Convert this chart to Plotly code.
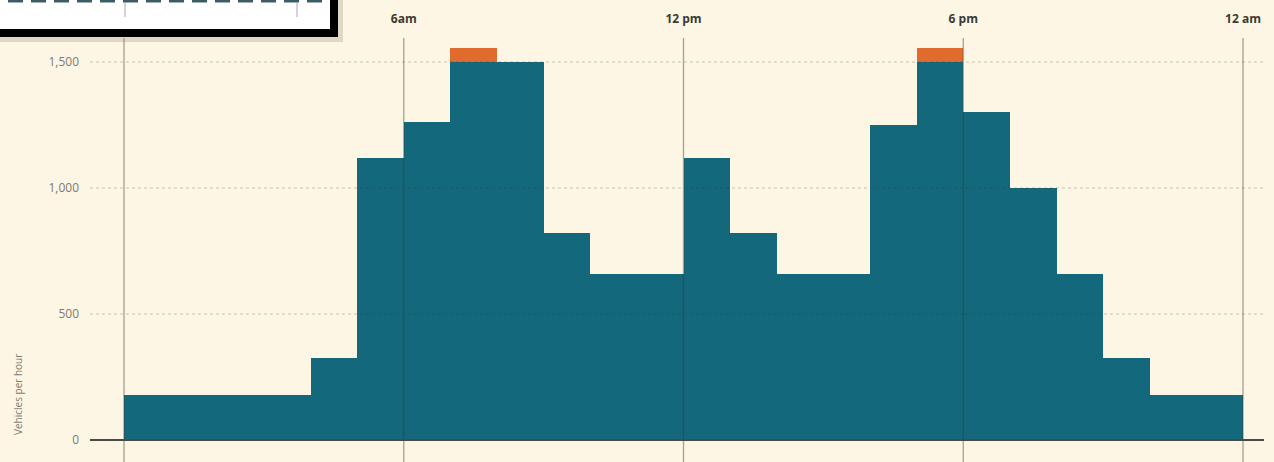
import plotly.graph_objects as go

# Hourly traffic demand on the road (vehicles per hour), hour 0 = midnight
hours = list(range(24))
demand = [180, 180, 180, 180, 325, 1120, 1260, 1555, 1500, 820, 660, 660,
          1120, 820, 660, 660, 1250, 1555, 1300, 1000, 660, 325, 180, 180]
capacity = 1500

tick_hours = [0, 6, 12, 18, 24]
tick_text = ["", "6am", "12 pm", "6 pm", "12 am"]
y_ticks = [0, 500, 1000, 1500]
y_tick_text = ["0", "500", "1,000", "1,500"]

# Split each hour into flow carried and demand above capacity
carried = [min(d, capacity) for d in demand]
excess = [max(d - capacity, 0) for d in demand]
centers = [h + 0.5 for h in hours]

BG = "#fdf6e4"
TEAL = "#14687b"
ORANGE = "#e06b2e"
GRID = "rgba(70,60,40,0.28)"

W, H = 1274.0, 462.0
left, right, top, bottom = 90, 1264, 28, 462


def px(x):
    """page pixel x -> paper (plot-area) fraction"""
    return (x - left) / (right - left)


def py(y):
    """page pixel y -> paper (plot-area) fraction"""
    return (bottom - y) / (bottom - top)


fig = go.Figure()
fig.add_trace(go.Bar(x=centers, y=carried, width=1, marker=dict(color=TEAL, line=dict(width=0)),
                     hoverinfo="skip"))
fig.add_trace(go.Bar(x=centers, y=excess, width=1, marker=dict(color=ORANGE, line=dict(width=0)),
                     hoverinfo="skip"))

shapes = []
# dotted horizontal guides over the bars
for v in y_ticks[1:]:
    shapes.append(dict(type="line", xref="paper", yref="y", x0=0, x1=1, y0=v, y1=v,
                       line=dict(color=GRID, width=1, dash="dot"), layer="above"))
# vertical hour guides
for h in tick_hours:
    shapes.append(dict(type="line", xref="x", yref="paper", x0=h, x1=h, y0=0, y1=py(38),
                       line=dict(color="rgba(60,55,45,0.45)", width=1.3), layer="above"))
# baseline
shapes.append(dict(type="line", xref="paper", yref="y", x0=0, x1=1, y0=0, y1=0,
                   line=dict(color="#4a4a44", width=2.2), layer="above"))

# small overview panel in the top-left corner
shapes.append(dict(type="rect", xref="paper", yref="paper", x0=px(-20), x1=px(343), y0=py(42), y1=py(-20),
                   fillcolor="rgba(120,110,80,0.22)", line=dict(width=0), layer="above"))
shapes.append(dict(type="rect", xref="paper", yref="paper", x0=px(-20), x1=px(334), y0=py(33), y1=py(-20),
                   fillcolor="white", line=dict(color="black", width=8), layer="above"))
for i in range(14):
    x0 = 8 + i * 23
    shapes.append(dict(type="rect", xref="paper", yref="paper", x0=px(x0), x1=px(x0 + 15), y0=py(2.5), y1=py(-2),
                       fillcolor="#3d5d66", line=dict(width=0), layer="above"))
for xl in (125, 297):
    shapes.append(dict(type="line", xref="paper", yref="paper", x0=px(xl), x1=px(xl), y0=py(3), y1=py(17),
                       line=dict(color="#c4c4cc", width=1.5), layer="above"))

# pixel mapping: hour 0 -> 124px, hour 24 -> 1243px; value 0 -> 440px, 1500 -> 62px
x_per_px = 24 / (1243 - 124)
y_per_px = 1500 / (440 - 62)

fig.update_layout(
    width=1274, height=462,
    margin=dict(l=left, r=W - right, t=top, b=H - bottom),
    paper_bgcolor=BG, plot_bgcolor=BG,
    barmode="stack", bargap=0, showlegend=False,
    shapes=shapes,
    xaxis=dict(range=[(left - 124) * x_per_px, (right - 124) * x_per_px],
               side="top", tickvals=tick_hours, ticktext=tick_text,
               showgrid=False, zeroline=False, showline=False, ticks="",
               ticklabelstandoff=2,
               tickfont=dict(family="Open Sans", size=12, color="#3a3a36", weight="bold")),
    yaxis=dict(range=[-(462 - 440) * y_per_px, (440 - top) * y_per_px],
               tickvals=y_ticks, ticktext=y_tick_text,
               showgrid=False, zeroline=False, showline=False, ticks="",
               ticklabelstandoff=10,
               tickfont=dict(family="Open Sans", size=12, color="#7d7a70")),
    annotations=[dict(text="Vehicles per hour", xref="paper", yref="paper",
                      x=px(18), y=py(395), xanchor="center", yanchor="middle",
                      textangle=-90, showarrow=False,
                      font=dict(family="Open Sans", size=10, color="#7d7a70"))],
)

fig.write_html("out.html")
